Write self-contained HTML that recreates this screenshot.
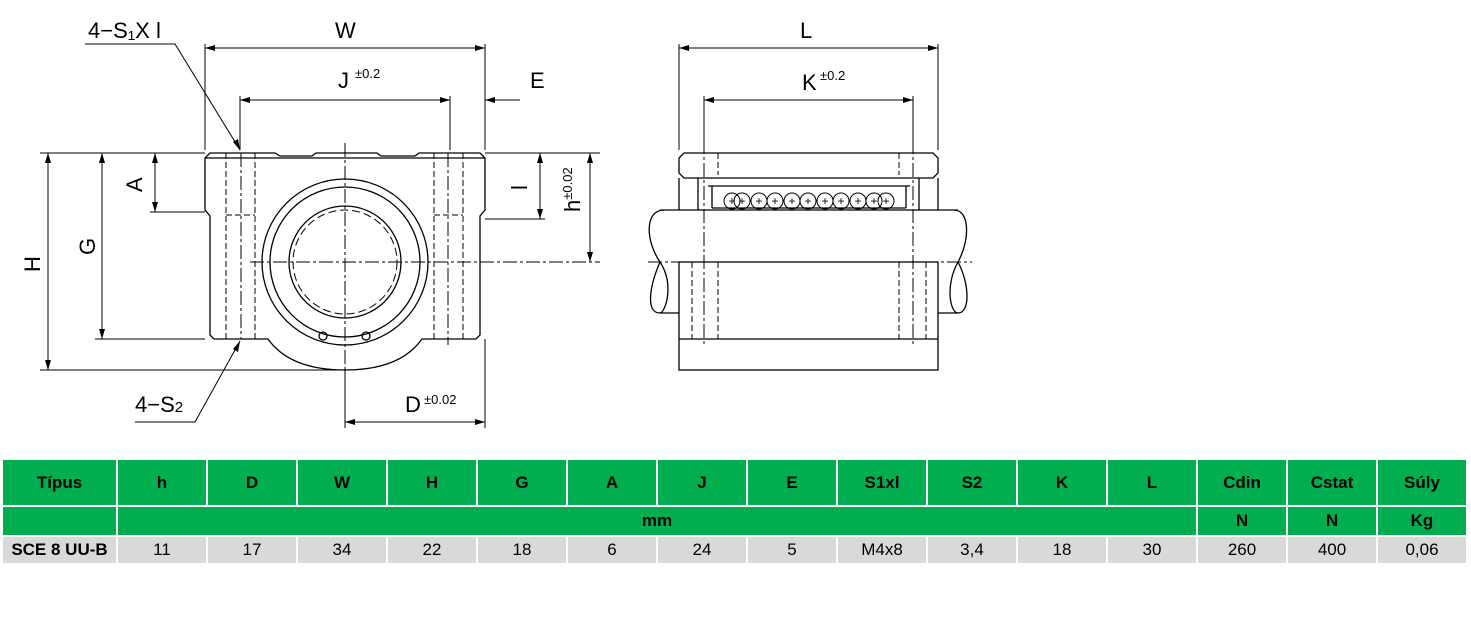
<!DOCTYPE html>
<html><head><style>
body{margin:0;background:#fff;width:1471px;height:628px;overflow:hidden;font-family:"Liberation Sans",sans-serif}
svg{position:absolute;left:0;top:0}
table{position:absolute;left:1px;top:458px;border-collapse:collapse;table-layout:fixed;width:1467px;font-family:"Liberation Sans",sans-serif;font-size:17px}
td{border:2px solid #fff;text-align:center;padding:0;overflow:hidden}
tr.h td{background:#00ae50;font-weight:bold;height:45px}
tr.m td{background:#00ae50;font-weight:bold;height:28px}
tr.d td{background:#d9d9d9;height:26px}
</style></head><body>
<svg width="1471" height="450" viewBox="0 0 1471 450" fill="none" stroke="#000" stroke-width="1.3" font-family="Liberation Sans, sans-serif">
<g font-size="22" fill="#000" stroke="none">
<text x="88" y="38">4−S₁X l</text><text x="335" y="38">W</text>
<text x="338" y="88">J</text><text x="355" y="78" font-size="13">±0.2</text>
<text x="530" y="88">E</text><text x="800" y="38">L</text>
<text x="802" y="90">K</text><text x="820" y="80" font-size="13">±0.2</text>
<text x="135" y="412">4−S<tspan font-size="15">2</tspan></text>
<text x="405" y="412">D</text><text x="424" y="404" font-size="13">±0.02</text>
<text transform="translate(40,272) rotate(-90)">H</text>
<text transform="translate(95,255) rotate(-90)">G</text>
<text transform="translate(142,192) rotate(-90)">A</text>
<text transform="translate(527,190) rotate(-90)">l</text>
<text transform="translate(580,212) rotate(-90)">h<tspan font-size="13" dy="-8">±0.02</tspan></text>
</g>
<g stroke-width="1">
<line x1="205" y1="44" x2="205" y2="150"/><line x1="485" y1="44" x2="485" y2="150"/>
<line x1="205" y1="48" x2="485" y2="48"/>
<line x1="240" y1="96" x2="240" y2="150"/><line x1="450" y1="96" x2="450" y2="150"/>
<line x1="240" y1="100" x2="450" y2="100"/><line x1="485" y1="100" x2="520" y2="100"/>
<line x1="40" y1="153" x2="205" y2="153"/><line x1="40" y1="370" x2="345" y2="370"/>
<line x1="48" y1="153" x2="48" y2="370"/>
<line x1="95" y1="339" x2="205" y2="339"/><line x1="102" y1="153" x2="102" y2="339"/>
<line x1="150" y1="212" x2="205" y2="212"/><line x1="155" y1="153" x2="155" y2="212"/>
<line x1="485" y1="153" x2="600" y2="153"/><line x1="485" y1="219" x2="545" y2="219"/>
<line x1="540" y1="153" x2="540" y2="219"/><line x1="590" y1="153" x2="590" y2="262"/>
<line x1="345" y1="370" x2="345" y2="428"/><line x1="485" y1="339" x2="485" y2="428"/>
<line x1="345" y1="422" x2="485" y2="422"/>
<polyline points="85,44 175,44 240,150"/><polyline points="135,422 195,422 240,341"/>
<line x1="679" y1="44" x2="679" y2="150"/><line x1="938" y1="44" x2="938" y2="150"/>
<line x1="679" y1="48" x2="938" y2="48"/>
<line x1="704" y1="96" x2="704" y2="150"/><line x1="913" y1="96" x2="913" y2="150"/>
<line x1="704" y1="100" x2="913" y2="100"/>
</g>
<g fill="#000" stroke="none">
<path d="M205 48l10-3v6zM485 48l-10-3v6zM240 100l10-3v6zM450 100l-10-3v6zM485 100l10-3v6z"/>
<path d="M48 153l-3 10h6zM48 370l-3-10h6zM102 153l-3 10h6zM102 339l-3-10h6zM155 153l-3 10h6zM155 212l-3-10h6z"/>
<path d="M540 153l-3 10h6zM540 219l-3-10h6zM590 153l-3 10h6zM590 262l-3-10h6z"/>
<path d="M345 422l10-3v6zM485 422l-10-3v6zM240 150l-7-8 5-3zM240 341l-7 8 5 3z"/>
<path d="M679 48l10-3v6zM938 48l-10-3v6zM704 100l10-3v6zM913 100l-10-3v6z"/>
</g>
<path d="M210 153 L275 153 L280 156 L312 156 L316 153 L377 153 L381 156 L415 156 L419 153 L480 153 L485 158 L485 210 L480 216 L480 335 L476 339 L422 339 Q400 370 345 370 Q290 370 268 339 L214 339 L210 335 L210 216 L205 210 L205 158 Z"/>
<line x1="205" y1="158" x2="485" y2="158"/>
<circle cx="345" cy="262" r="83"/><circle cx="345" cy="262" r="75"/>
<circle cx="345" cy="262" r="56"/><circle cx="345" cy="262" r="52" stroke-dasharray="8 4" stroke-width="1"/>
<circle cx="323" cy="336" r="4"/><circle cx="366" cy="336" r="4"/>
<g stroke-dasharray="6 3" stroke-width="1">
<line x1="226" y1="153" x2="226" y2="339"/><line x1="255" y1="153" x2="255" y2="339"/>
<line x1="434" y1="153" x2="434" y2="339"/><line x1="463" y1="153" x2="463" y2="339"/>
<line x1="226" y1="215" x2="255" y2="215"/><line x1="434" y1="215" x2="463" y2="215"/>
</g>
<g stroke-dasharray="14 3 3 3" stroke-width="1">
<line x1="345" y1="143" x2="345" y2="380"/><line x1="250" y1="262" x2="600" y2="262"/>
<line x1="241" y1="153" x2="241" y2="339"/><line x1="448" y1="153" x2="448" y2="345"/>
<line x1="648" y1="262" x2="972" y2="262"/>
<line x1="704" y1="140" x2="704" y2="345"/><line x1="913" y1="140" x2="913" y2="345"/>
</g>
<path d="M684 153 L933 153 L938 158 L938 173 L933 178 L684 178 L679 173 L679 158 Z"/>
<line x1="679" y1="178" x2="679" y2="210"/><line x1="938" y1="178" x2="938" y2="210"/>
<line x1="698" y1="178" x2="698" y2="210"/><line x1="919" y1="178" x2="919" y2="210"/>
<path d="M708 186 L910 186 M712 186 L712 208 M906 186 L906 208 M712 208 L906 208"/>
<path d="M660 210 L958 210 M660 313 L679 313 M938 313 L958 313"/>
<path d="M664 210 C645 210 645 240 660 262 C675 285 665 313 660 313 C645 313 650 285 660 262"/>
<path d="M954 210 C970 210 970 240 958 262 C945 285 950 313 958 313 C970 313 970 285 958 262"/>
<rect x="679" y="262" width="259" height="108"/><line x1="679" y1="339" x2="938" y2="339"/>
<g stroke-dasharray="6 3" stroke-width="1">
<line x1="692" y1="262" x2="692" y2="339"/><line x1="718" y1="262" x2="718" y2="339"/>
<line x1="899" y1="262" x2="899" y2="339"/><line x1="926" y1="262" x2="926" y2="339"/>
<line x1="718" y1="153" x2="718" y2="175"/><line x1="899" y1="153" x2="899" y2="175"/>
</g>
<g stroke-width="1">
<circle cx="732" cy="201" r="8"/><circle cx="742" cy="201" r="8"/><circle cx="759" cy="201" r="8"/>
<circle cx="775" cy="201" r="8"/><circle cx="792" cy="201" r="8"/><circle cx="808" cy="201" r="8"/>
<circle cx="825" cy="201" r="8"/><circle cx="841" cy="201" r="8"/><circle cx="858" cy="201" r="8"/>
<circle cx="874" cy="201" r="8"/><circle cx="886" cy="201" r="8"/>
</g>
<g font-size="12" fill="#000" stroke="none" text-anchor="middle">
<text x="732" y="205">+</text><text x="742" y="205">+</text><text x="759" y="205">+</text><text x="775" y="205">+</text><text x="792" y="205">+</text><text x="808" y="205">+</text><text x="825" y="205">+</text><text x="841" y="205">+</text><text x="858" y="205">+</text><text x="874" y="205">+</text><text x="886" y="205">+</text>
</g>
</svg>
<table>
<colgroup><col style="width:115px"><col span="15" style="width:90px"></colgroup>
<tr class="h"><td>Típus</td><td>h</td><td>D</td><td>W</td><td>H</td><td>G</td><td>A</td><td>J</td><td>E</td><td>S1xl</td><td>S2</td><td>K</td><td>L</td><td>Cdin</td><td>Cstat</td><td>Súly</td></tr>
<tr class="m"><td></td><td colspan="12">mm</td><td>N</td><td>N</td><td>Kg</td></tr>
<tr class="d"><td style="font-weight:bold">SCE 8 UU-B</td><td>11</td><td>17</td><td>34</td><td>22</td><td>18</td><td>6</td><td>24</td><td>5</td><td>M4x8</td><td>3,4</td><td>18</td><td>30</td><td>260</td><td>400</td><td>0,06</td></tr>
</table>
</body></html>
